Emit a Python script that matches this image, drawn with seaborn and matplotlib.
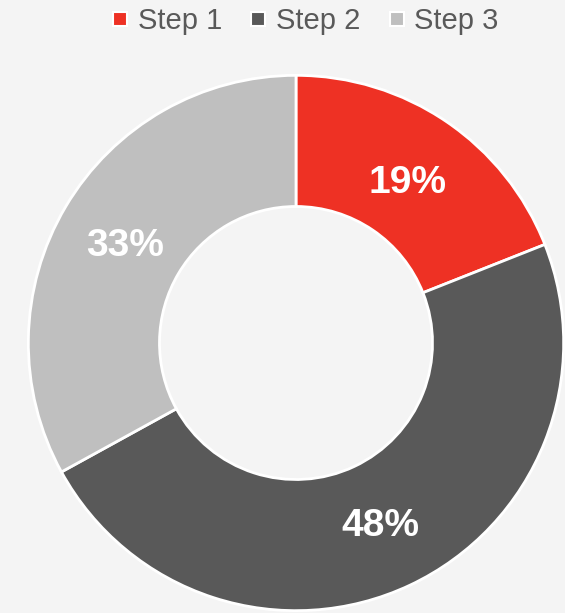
import matplotlib
matplotlib.use("Agg")
import matplotlib.pyplot as plt
from matplotlib.lines import Line2D
import seaborn as sns

categories = ["Step 1", "Step 2", "Step 3"]
values = [19, 48, 33]
colors = ["#EE3124", "#595959", "#BFBFBF"]

sns.set_style("white")
plt.rcParams["font.family"] = ["Liberation Sans", "DejaVu Sans"]

W, H = 565, 613
fig = plt.figure(figsize=(W / 100, H / 100), dpi=100, facecolor="#F4F4F4")
ax = fig.add_axes([27 / W, (613 - 612) / H, 538 / W, 538 / H])
ax.set_facecolor("#F4F4F4")

wedges, texts, autotexts = ax.pie(
    values, colors=colors, startangle=90, counterclock=False,
    radius=1.0, pctdistance=0.74,
    autopct=lambda p: f"{p:.0f}%",
    wedgeprops=dict(width=0.49, edgecolor="white", linewidth=2),
    textprops=dict(color="white", fontsize=28, fontweight="bold"),
)
for t in autotexts:
    x, y = t.get_position()
    t.set_position((x, y - 0.015))
ax.set_xlim(-1.005, 1.005)
ax.set_ylim(-1.005, 1.005)
ax.set_aspect("equal")
ax.axis("off")

handles = [Line2D([0], [0], marker="s", linestyle="none", markersize=10,
                  markerfacecolor=c, markeredgecolor="white", markeredgewidth=1.5)
           for c in colors]
leg = fig.legend(handles, categories, loc="center", bbox_to_anchor=(305 / W, 1 - 21 / H),
                 ncol=3, frameon=False, fontsize=21, handlelength=0.6,
                 handletextpad=0.3, columnspacing=0.95, labelcolor="#595959")

fig.savefig("out.png", dpi=100, facecolor=fig.get_facecolor())
